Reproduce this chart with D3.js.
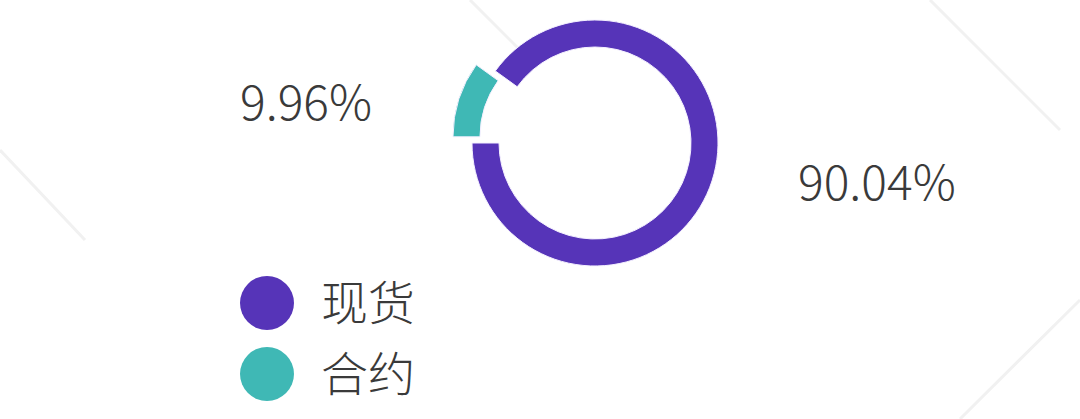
<!DOCTYPE html>
<html><head><meta charset="utf-8">
<script src="https://cdn.jsdelivr.net/npm/d3@7"></script>
<style>html,body{margin:0;padding:0;background:#fff;overflow:hidden}</style>
</head><body>
<svg id="c" width="1080" height="419"></svg>
<script>
const categories = ["合约", "现货"];
const values = [9.96, 90.04];
const labels = ["9.96%", "90.04%"];
const legendOrder = ["现货", "合约"];
const colors = {"现货": "#5634b8", "合约": "#3fb8b5"};

const svg = d3.select("#c");
const font = "'Noto Sans CJK SC','Noto Sans',sans-serif";

// faint watermark lines
const wm = svg.append("g").attr("stroke", "#f1f1f1").attr("stroke-width", 3).attr("fill", "none");
[[[0,150],[85,240]], [[930,0],[1060,130]], [[1080,300],[960,419]], [[470,0],[520,50]]].forEach(p => wm.append("path").attr("d", d3.line()(p)));

const cx = 595, cy = 143, rOut = 123, rIn = 96;
const pie = d3.pie().sort(null).startAngle(-Math.PI/2).endAngle(1.5*Math.PI);
const arcs = pie(values);
const arc = d3.arc().innerRadius(rIn).outerRadius(rOut);
const g = svg.append("g").attr("transform", `translate(${cx},${cy})`);
g.selectAll("path").data(arcs).join("path")
  .attr("d", arc)
  .attr("fill", (d,i) => colors[categories[i]])
  .attr("stroke", "#f4f0ff").attr("stroke-width", 1)
  .attr("transform", (d,i) => {
    if (i !== 0) return null;
    const m = (d.startAngle + d.endAngle)/2, off = 20;
    return `translate(${Math.sin(m)*off},${-Math.cos(m)*off})`;
  });

// labels
const labelPos = [[240, 120, "start"], [798, 200, "start"]];
labels.forEach((t,i) => {
  svg.append("text").attr("x", labelPos[i][0]).attr("y", labelPos[i][1])
    .attr("text-anchor", labelPos[i][2])
    .attr("font-family", font).attr("font-weight", 300).attr("font-size", 48)
    .attr("fill", "#3a3a3a").text(t);
});

// legend
const ly = d3.scalePoint().domain(legendOrder).range([303, 374]);
const lg = svg.append("g");
legendOrder.forEach(k => {
  lg.append("circle").attr("cx", 267).attr("cy", ly(k)).attr("r", 27).attr("fill", colors[k]);
  lg.append("text").attr("x", 321).attr("y", ly(k)).attr("dy", "0.36em")
    .attr("font-family", font).attr("font-weight", 300).attr("font-size", 47)
    .attr("fill", "#3a3a3a").text(k);
});
</script>
</body></html>
